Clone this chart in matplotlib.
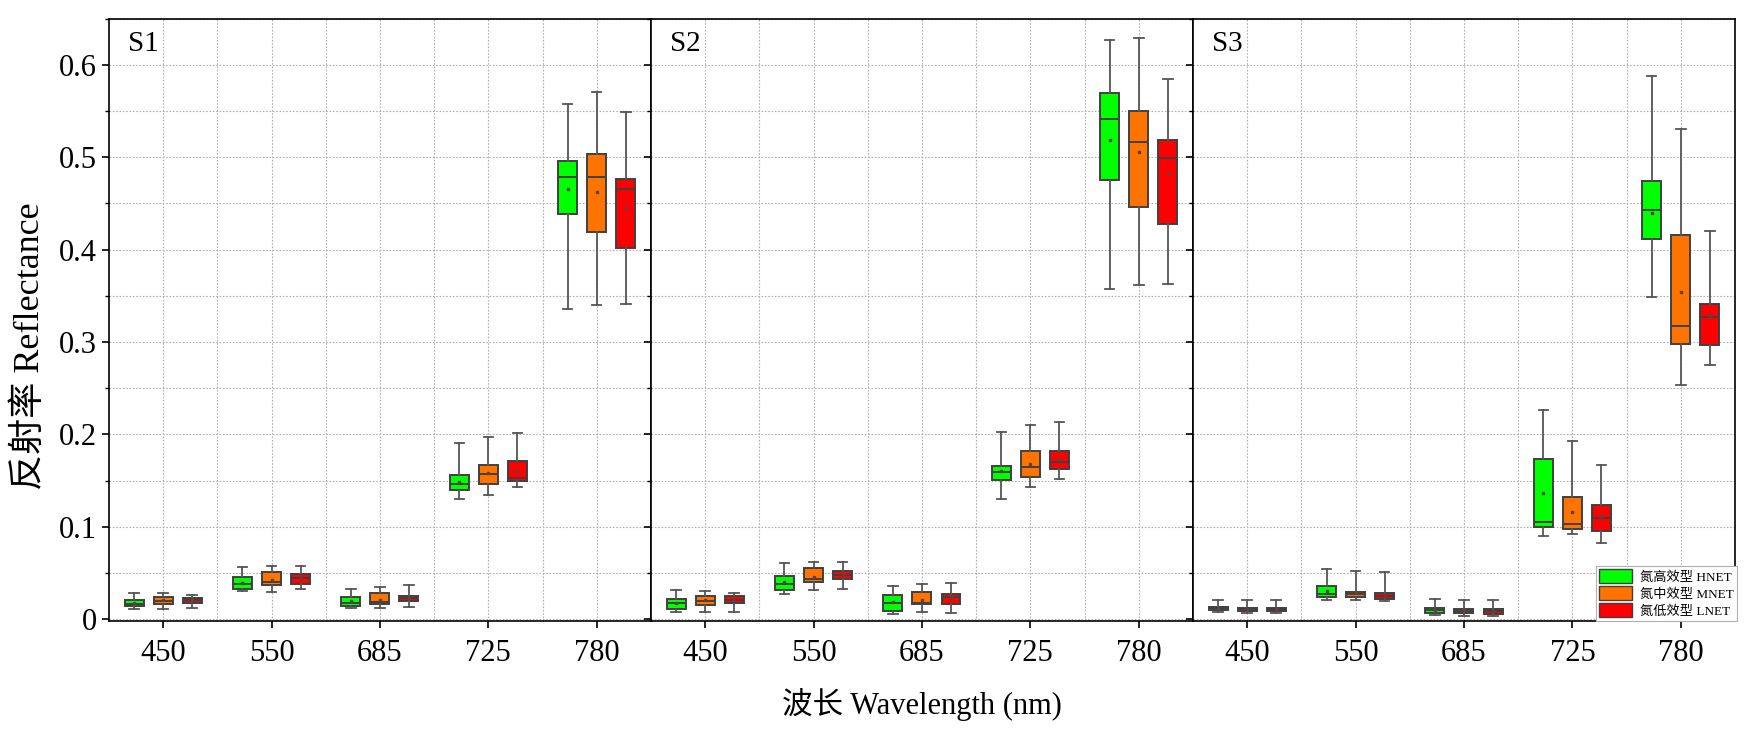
import matplotlib
matplotlib.use('Agg')
import matplotlib.pyplot as plt
import numpy as np
from matplotlib.patches import Patch
from matplotlib.ticker import MultipleLocator, FixedLocator

plt.rcParams['font.family'] = ['Liberation Serif', 'Noto Sans CJK SC']

wavelengths = ['450', '550', '685', '725', '780']
panels = ['S1', 'S2', 'S3']
groups = ['氮高效型 HNET', '氮中效型 MNET', '氮低效型 LNET']
colors = ['#00ff00', '#ff7300', '#ff0000']

# each array: rows = wavelength, cols = HNET, MNET, LNET
S1_lo = [[0.011, 0.011, 0.012], [0.030, 0.0295, 0.0324], [0.0122, 0.0125, 0.0133], [0.130, 0.134, 0.143], [0.336, 0.3405, 0.341]]
S1_q1 = [[0.014, 0.016, 0.018], [0.033, 0.0368, 0.0385], [0.0147, 0.016, 0.0195], [0.140, 0.146, 0.149], [0.438, 0.419, 0.402]]
S1_med = [[0.0169, 0.0195, 0.0205], [0.0385, 0.0407, 0.0443], [0.0173, 0.0187, 0.0227], [0.146, 0.157, 0.153], [0.479, 0.479, 0.465]]
S1_q3 = [[0.0209, 0.0238, 0.0234], [0.0454, 0.0511, 0.0486], [0.0245, 0.028, 0.0255], [0.1556, 0.1665, 0.171], [0.4955, 0.503, 0.476]]
S1_hi = [[0.0288, 0.0288, 0.026], [0.056, 0.058, 0.058], [0.033, 0.0346, 0.037], [0.1907, 0.197, 0.2017], [0.557, 0.570, 0.549]]
S1_mean = [[0.018, 0.021, 0.021], [0.039, 0.042, 0.046], [0.0195, 0.021, 0.023], [0.148, 0.158, 0.160], [0.465, 0.462, 0.445]]

S2_lo = [[0.008, 0.008, 0.008], [0.027, 0.032, 0.033], [0.0057, 0.0073, 0.007], [0.130, 0.1427, 0.152], [0.357, 0.3617, 0.363]]
S2_q1 = [[0.011, 0.0155, 0.017], [0.032, 0.0405, 0.043], [0.0093, 0.016, 0.016], [0.1506, 0.154, 0.162], [0.475, 0.4457, 0.4273]]
S2_med = [[0.0177, 0.020, 0.021], [0.038, 0.043, 0.0477], [0.0174, 0.0174, 0.024], [0.159, 0.165, 0.1704], [0.5416, 0.5167, 0.4987]]
S2_q3 = [[0.022, 0.025, 0.0248], [0.0465, 0.055, 0.0525], [0.026, 0.0297, 0.027], [0.166, 0.1816, 0.1823], [0.569, 0.5495, 0.519]]
S2_hi = [[0.0317, 0.031, 0.028], [0.061, 0.062, 0.062], [0.0356, 0.038, 0.039], [0.2028, 0.210, 0.2137], [0.627, 0.629, 0.585]]
S2_mean = [[0.018, 0.021, 0.021], [0.040, 0.046, 0.048], [0.019, 0.021, 0.024], [0.1607, 0.168, 0.173], [0.518, 0.5055, 0.482]]

S3_lo = [[0.0082, 0.0068, 0.0068], [0.0209, 0.0205, 0.0194], [0.0047, 0.0038, 0.003], [0.090, 0.0925, 0.0828], [0.349, 0.2536, 0.2753]]
S3_q1 = [[0.010, 0.0093, 0.0093], [0.0241, 0.0241, 0.0223], [0.0069, 0.0069, 0.0054], [0.0998, 0.0974, 0.0949], [0.4115, 0.298, 0.2965]]
S3_med = [[0.0119, 0.0108, 0.0108], [0.0277, 0.027, 0.0252], [0.0095, 0.009, 0.0085], [0.1047, 0.1035, 0.1095], [0.4432, 0.3174, 0.3272]]
S3_q3 = [[0.0133, 0.0122, 0.0122], [0.0363, 0.0298, 0.0284], [0.0118, 0.0114, 0.0106], [0.1737, 0.1325, 0.123], [0.4738, 0.416, 0.3409]]
S3_hi = [[0.0212, 0.0205, 0.0205], [0.0544, 0.0522, 0.0515], [0.0217, 0.0205, 0.021], [0.2258, 0.193, 0.1665], [0.5873, 0.5304, 0.420]]
S3_mean = [[0.012, 0.011, 0.011], [0.031, 0.028, 0.026], [0.0095, 0.009, 0.0085], [0.136, 0.1156, 0.112], [0.440, 0.3535, 0.329]]

data = {
    'S1': (S1_lo, S1_q1, S1_med, S1_q3, S1_hi, S1_mean),
    'S2': (S2_lo, S2_q1, S2_med, S2_q3, S2_hi, S2_mean),
    'S3': (S3_lo, S3_q1, S3_med, S3_q3, S3_hi, S3_mean),
}

W, H = 1758, 731
fig = plt.figure(figsize=(W / 100, H / 100), dpi=100)

left, right, top, bottom = 108.9, 1735, 18.5, 621
pw = (right - left) / 3
offsets = [-0.268, 0.0, 0.268]
edge = '#404040'

axes = []
for p, name in enumerate(panels):
    ax = fig.add_axes([(left + p * pw) / W, 1 - bottom / H, pw / W, (bottom - top) / H])
    axes.append(ax)
    lo, q1, med, q3, hi, mean = data[name]
    for g in range(3):
        stats = []
        for i in range(len(wavelengths)):
            stats.append(dict(whislo=lo[i][g], q1=q1[i][g], med=med[i][g],
                              q3=q3[i][g], whishi=hi[i][g], mean=mean[i][g], fliers=[]))
        pos = np.arange(len(wavelengths)) + offsets[g]
        ax.bxp(stats, positions=pos, widths=0.175, patch_artist=True, showmeans=True,
               showfliers=False, manage_ticks=False,
               boxprops=dict(facecolor=colors[g], edgecolor=edge, linewidth=1.4),
               medianprops=dict(color=edge, linewidth=1.4),
               whiskerprops=dict(color='#555555', linewidth=1.3),
               capprops=dict(color='#555555', linewidth=1.3),
               meanprops=dict(marker='s', markersize=2, markerfacecolor='#704848',
                              markeredgecolor='#604040'))

    ax.set_xlim(-0.5, 4.5)
    ax.set_ylim(-0.002, 0.65)
    ax.set_xticks(range(len(wavelengths)))
    ax.set_xticklabels(wavelengths, fontsize=22)
    ax.xaxis.set_minor_locator(FixedLocator([0.5, 1.5, 2.5, 3.5]))
    ax.yaxis.set_major_locator(MultipleLocator(0.1))
    ax.yaxis.set_minor_locator(MultipleLocator(0.05))
    ax.tick_params(axis='x', which='major', direction='out', length=5, width=1.2, pad=8)
    ax.tick_params(axis='x', which='minor', length=0)
    ax.tick_params(axis='y', which='major', direction='out', length=5, width=1.2, labelsize=22)
    ax.tick_params(axis='y', which='minor', direction='out', length=3, width=1.0)
    ax.grid(True, which='both', linestyle=(0, (1.5, 1.5)), color='#b0b0b0', linewidth=0.8)
    ax.set_axisbelow(True)
    for s in ax.spines.values():
        s.set_linewidth(1.2)
    if p > 0:
        ax.tick_params(axis='y', which='both', labelleft=False)
    ax.text(0.035, 0.958, name, transform=ax.transAxes, fontsize=21, ha='left', va='center')

axes[0].yaxis.set_major_formatter(plt.FuncFormatter(lambda v, _: '0' if abs(v) < 1e-9 else f'{v:.1f}'))
fig.text(30 / W, 1 - 346 / H, '反射率 Reflectance', fontsize=26, rotation=90,
         ha='center', va='center')
fig.text(0.5 * (left + right) / W, 1 - 704 / H, '波长 Wavelength (nm)', fontsize=22,
         ha='center', va='center')

handles = [Patch(facecolor=c, edgecolor=edge, linewidth=1.0) for c in colors]
leg = axes[2].legend(handles, groups, loc='lower right', bbox_to_anchor=(1.004, 0.0),
                     borderaxespad=0, fontsize=9.5, handlelength=2.5, handleheight=1.2,
                     labelspacing=0.22, handletextpad=0.6, borderpad=0.25,
                     fancybox=False, framealpha=1, edgecolor='#b0b0b0')
leg.get_frame().set_linewidth(0.8)

fig.savefig('out.png', dpi=100)
